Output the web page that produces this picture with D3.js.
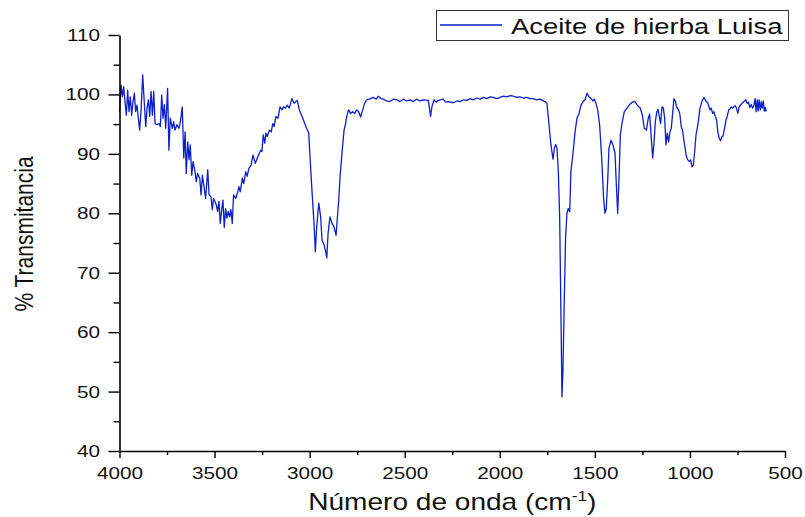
<!DOCTYPE html>
<html>
<head>
<meta charset="utf-8">
<script src="https://cdnjs.cloudflare.com/ajax/libs/d3/7.8.5/d3.min.js"></script>
<style>
  body { margin: 0; background: #fff; }
  svg { display: block; font-family: "Liberation Sans", Arial, sans-serif; }
</style>
</head>
<body>
<div id="chart"></div>
<script>
// FTIR spectrum, values: [wavenumber, %T]
const spectrum = [
  [4000,97.1],[3992,101.6],[3985,99.6],[3978,101.3],[3971,98.8],[3964,96.5],[3957,100.7],[3950,97.1],
  [3943,99.6],[3936,96.5],[3929,98.8],[3922,100.2],[3915,97.1],[3908,98.2],[3901,96.0],[3894,94.0],
  [3887,97.1],[3878,103.3],[3870,98.8],[3862,94.6],[3855,97.7],[3848,99.1],[3841,96.3],[3834,100.5],
  [3827,96.5],[3820,100.5],[3813,95.1],[3803,94.9],[3792,95.1],[3785,94.6],[3778,99.9],[3771,96.0],
  [3764,98.3],[3757,94.3],[3747,101.0],[3740,90.6],[3733,96.0],[3722,94.3],[3715,95.4],[3708,94.0],
  [3698,94.9],[3687,94.3],[3680,95.4],[3670,97.9],[3662,89.3],[3655,93.7],[3649,86.7],[3641,92.0],
  [3634,89.0],[3628,91.5],[3620,86.4],[3613,88.7],[3603,87.0],[3596,85.3],[3589,86.7],[3578,85.9],
  [3571,83.1],[3564,86.4],[3557,84.8],[3547,82.5],[3536,87.3],[3529,83.1],[3519,82.8],[3512,80.6],
  [3505,82.5],[3498,82.0],[3491,81.4],[3484,80.3],[3477,82.0],[3470,78.3],[3462,80.8],[3456,82.2],
  [3449,77.6],[3442,80.8],[3435,79.2],[3428,80.3],[3421,79.4],[3414,80.6],[3407,78.3],[3400,83.1],
  [3389,82.5],[3378,83.6],[3372,84.5],[3365,83.6],[3354,85.9],[3347,85.0],[3336,87.0],[3329,86.2],
  [3319,87.6],[3308,88.1],[3298,89.8],[3286,88.4],[3275,89.3],[3265,90.1],[3257,90.6],[3251,90.4],
  [3244,93.2],[3236,91.8],[3230,93.5],[3223,92.9],[3212,94.0],[3202,93.7],[3194,95.1],[3187,94.6],
  [3177,96.3],[3166,96.0],[3156,97.9],[3145,97.4],[3139,97.9],[3128,97.7],[3118,98.2],[3107,97.7],
  [3093,99.3],[3082,98.5],[3072,98.8],[3065,99.0],[3054,97.4],[3040,96.3],[3026,95.1],[3016,94.3],
  [3005,93.5],[2998,89.5],[2988,83.9],[2977,78.3],[2970,73.5],[2963,77.7],[2952,81.7],[2942,79.4],
  [2935,75.5],[2924,74.7],[2914,73.3],[2910,72.5],[2903,76.6],[2893,79.4],[2882,78.3],[2872,77.7],
  [2861,76.3],[2855,78.9],[2847,82.2],[2840,86.2],[2830,90.1],[2819,94.0],[2812,94.9],[2805,96.3],
  [2795,97.4],[2784,96.8],[2774,97.1],[2763,96.8],[2753,97.4],[2742,97.1],[2732,96.2],[2721,97.4],
  [2711,98.5],[2700,99.1],[2686,99.2],[2665,99.5],[2650,99.2],[2639,99.7],[2625,99.3],[2613,99.2],
  [2595,98.9],[2578,98.8],[2560,99.2],[2542,99.1],[2525,98.8],[2507,99.2],[2490,98.9],[2472,99.1],
  [2455,98.8],[2437,99.2],[2420,98.9],[2402,99.1],[2376,99.0],[2364,96.3],[2357,97.9],[2346,99.1],
  [2335,98.7],[2323,99.0],[2297,99.2],[2285,98.7],[2271,98.8],[2244,98.6],[2225,98.9],[2209,98.8],
  [2190,99.1],[2174,99.0],[2155,99.3],[2139,99.1],[2120,99.4],[2104,99.2],[2085,99.5],[2069,99.3],
  [2050,99.6],[2034,99.5],[2015,99.3],[1999,99.5],[1980,99.7],[1964,99.6],[1945,99.8],[1929,99.7],
  [1910,99.5],[1894,99.6],[1875,99.4],[1859,99.5],[1840,99.3],[1824,99.3],[1805,99.1],[1789,99.2],
  [1762,98.8],[1752,98.5],[1741,94.9],[1731,91.5],[1720,89.1],[1713,90.9],[1706,91.6],[1699,90.9],
  [1692,87.0],[1685,79.2],[1678,62.3],[1673,49.1],[1668,53.3],[1661,65.1],[1654,75.8],[1647,80.0],
  [1640,80.8],[1632,80.3],[1626,87.0],[1615,90.1],[1604,93.7],[1594,96.0],[1583,96.8],[1573,98.2],
  [1562,98.8],[1552,99.1],[1541,100.2],[1531,99.6],[1520,99.3],[1510,98.9],[1503,99.2],[1496,98.7],
  [1485,97.4],[1475,94.9],[1464,89.3],[1454,82.5],[1447,80.0],[1440,80.8],[1432,85.9],[1426,90.9],
  [1415,92.3],[1405,91.5],[1394,90.1],[1387,84.8],[1380,80.0],[1373,85.9],[1366,93.2],[1356,95.4],
  [1345,97.1],[1331,97.7],[1317,98.3],[1303,98.7],[1289,98.8],[1275,98.1],[1261,97.7],[1250,96.5],
  [1240,94.3],[1229,94.0],[1219,96.0],[1212,96.7],[1203,92.6],[1196,89.3],[1189,91.8],[1182,95.4],
  [1174,97.1],[1168,97.5],[1161,96.3],[1154,95.1],[1147,97.9],[1140,97.8],[1133,96.0],[1126,91.5],
  [1119,93.5],[1112,92.0],[1105,93.7],[1098,94.3],[1091,96.8],[1084,99.3],[1077,98.9],[1070,97.9],
  [1060,97.4],[1053,96.7],[1046,94.6],[1039,94.0],[1032,92.3],[1025,90.9],[1018,89.5],[1011,89.0],
  [1003,88.7],[996,89.0],[989,87.8],[982,88.1],[975,90.4],[968,93.2],[958,94.9],[947,97.7],
  [937,98.8],[926,99.5],[916,98.9],[905,98.5],[895,97.4],[888,97.7],[881,96.8],[874,97.1],
  [867,96.3],[860,95.7],[853,93.7],[846,92.6],[839,92.2],[832,92.9],[826,93.0],[818,94.3],
  [810,95.7],[804,96.3],[796,97.4],[790,97.5],[783,97.9],[776,97.7],[769,97.9],[762,98.1],
  [755,97.7],[748,96.8],[741,97.9],[734,98.2],[727,98.5],[720,98.7],[713,98.9],[706,99.1],
  [699,98.5],[692,98.7],[685,97.8],[678,98.3],[671,97.7],[664,98.1],[657,99.3],[652,97.1],
  [646,99.1],[641,97.2],[636,99.1],[630,97.4],[625,98.8],[620,97.7],[614,98.9],[609,97.2],
  [604,97.8],[599,97.1]
];

const xTicks = [4000, 3500, 3000, 2500, 2000, 1500, 1000, 500];
const xMinorTicks = [3750, 3250, 2750, 2250, 1750, 1250, 750];
const yTicks = [40, 50, 60, 70, 80, 90, 100, 110];
const yMinorTicks = [45, 55, 65, 75, 85, 95, 105];
const seriesName = "Aceite de hierba Luisa";

const width = 805, height = 517;
const plotLeft = 119.5, plotRight = 785, plotTop = 35, plotBottom = 451;
const lineColor = "#0b1fcc";
const sx = 1.22; // the reference text is stretched sideways

const svg = d3.select("#chart").append("svg")
    .attr("width", width)
    .attr("height", height);

svg.append("rect").attr("width", width).attr("height", height).attr("fill", "#fff");

const x = d3.scaleLinear().domain([4000, 500]).range([plotLeft, plotRight]);
const y = d3.scaleLinear().domain([40, 110]).range([plotBottom, plotTop]);

// spectrum line
const line = d3.line()
    .x(d => x(d[0]))
    .y(d => y(d[1]));

svg.append("path")
    .datum(spectrum)
    .attr("fill", "none")
    .attr("stroke", lineColor)
    .attr("stroke-width", 1.3)
    .attr("stroke-linejoin", "round")
    .attr("d", line);

// x axis
const xAxis = svg.append("g")
    .attr("transform", `translate(0,${plotBottom})`)
    .call(d3.axisBottom(x).tickValues(xTicks).tickSize(7).tickSizeOuter(0).tickPadding(9)
        .tickFormat(d3.format("d")));
svg.append("g")
    .attr("transform", `translate(0,${plotBottom})`)
    .call(d3.axisBottom(x).tickValues(xMinorTicks).tickSize(4).tickSizeOuter(0).tickFormat(""))
    .select(".domain").remove();

// y axis
const yAxis = svg.append("g")
    .attr("transform", `translate(${plotLeft},0)`)
    .call(d3.axisLeft(y).tickValues(yTicks).tickSize(11).tickSizeOuter(0).tickPadding(8)
        .tickFormat(d3.format("d")));
svg.append("g")
    .attr("transform", `translate(${plotLeft},0)`)
    .call(d3.axisLeft(y).tickValues(yMinorTicks).tickSize(6).tickSizeOuter(0).tickFormat(""))
    .select(".domain").remove();

svg.selectAll(".domain").attr("stroke", "#000").attr("stroke-width", 1.6);
svg.selectAll(".tick line").attr("stroke", "#000").attr("stroke-width", 1.4);

xAxis.selectAll(".tick text")
    .attr("font-size", 17)
    .attr("font-family", "Liberation Sans, Arial, sans-serif")
    .attr("fill", "#111")
    .attr("transform", `scale(${sx},1)`);

yAxis.selectAll(".tick text")
    .attr("font-size", 17)
    .attr("font-family", "Liberation Sans, Arial, sans-serif")
    .attr("fill", "#111")
    .attr("x", 0)
    .attr("transform", `translate(-19.5,0) scale(${sx},1)`);

// axis titles
const xTitle = svg.append("text")
    .attr("transform", `translate(${(plotLeft + plotRight) / 2},510) scale(${sx},1)`)
    .attr("text-anchor", "middle")
    .attr("font-size", 23)
    .attr("fill", "#111");
xTitle.append("tspan").text("Número de onda (cm");
xTitle.append("tspan").attr("font-size", 14).attr("dy", -9).text("-1");
xTitle.append("tspan").attr("dy", 9).text(")");

svg.append("text")
    .attr("transform", `translate(33,234) scale(${sx},1) rotate(-90)`)
    .attr("text-anchor", "middle")
    .attr("font-size", 21)
    .attr("fill", "#111")
    .text("% Transmitancia");

// legend
const legend = svg.append("g");
legend.append("rect")
    .attr("x", 436.5).attr("y", 10.5)
    .attr("width", 352).attr("height", 30)
    .attr("fill", "#fff")
    .attr("stroke", "#333")
    .attr("stroke-width", 1);
legend.append("line")
    .attr("x1", 440).attr("x2", 502)
    .attr("y1", 25).attr("y2", 25)
    .attr("stroke", lineColor)
    .attr("stroke-width", 1.3);
legend.append("text")
    .attr("transform", `translate(511,33.5) scale(${sx},1)`)
    .attr("font-size", 22.5)
    .attr("fill", "#111")
    .text(seriesName);
</script>
</body>
</html>
